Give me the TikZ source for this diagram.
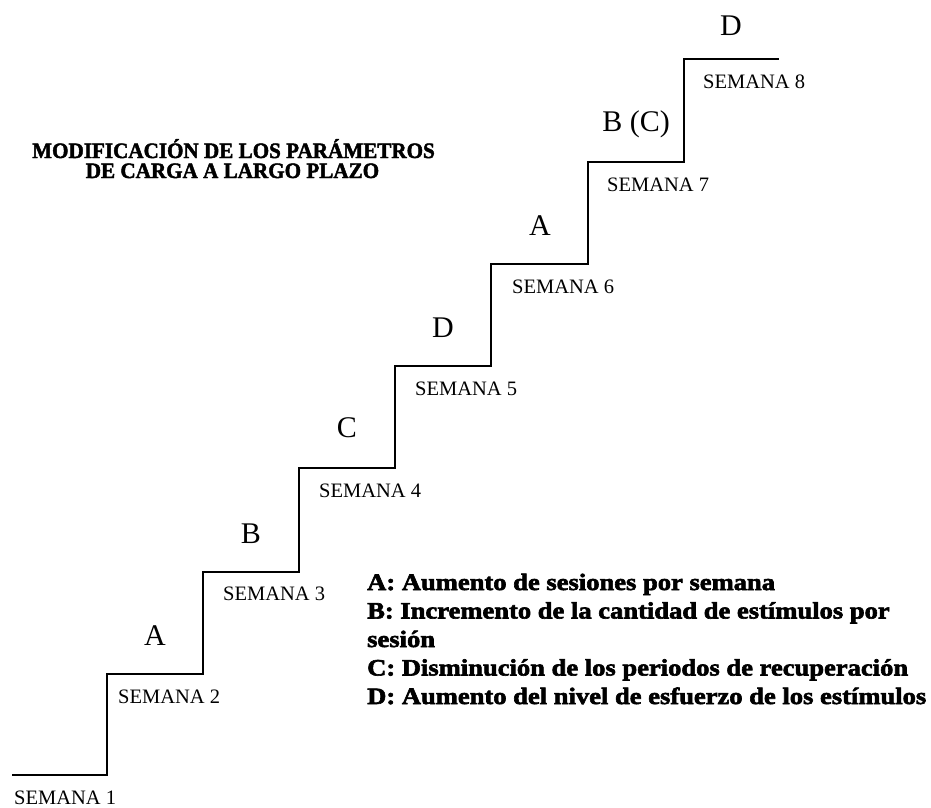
\documentclass[tikz,border=0pt]{standalone}
\usepackage{fontspec}
\setmainfont{Liberation Serif}
\newfontfamily\titlefont[FakeStretch=0.96,UprightFeatures={FakeBold=2}]{Liberation Serif Bold}
\newfontfamily\legendfont[FakeStretch=1.13,UprightFeatures={FakeBold=2.6}]{Liberation Serif Bold}
\usepackage{tikz}

\begin{document}
\begin{tikzpicture}[x=1pt,y=-1pt]
\tikzstyle{every node}+=[inner sep=0pt]
\tikzstyle{semana}=[anchor=base west,font=\fontsize{20.5}{24}\selectfont]
\tikzstyle{letra}=[anchor=base,font=\fontsize{30}{36}\selectfont]
\tikzstyle{titulo}=[anchor=base,font=\titlefont\fontsize{22}{26}\selectfont]
\tikzstyle{leyenda}=[anchor=base west,font=\legendfont\fontsize{23.5}{28}\selectfont]
\useasboundingbox (0,0) rectangle (931,807);
\draw [black,line width=2.8pt] (12,775) -- (107,775) -- (107,674) -- (203,674) -- (203,572) -- (299,572) -- (299,468) -- (395,468) -- (395,366) -- (491,366) -- (491,264) -- (588,264) -- (588,162) -- (684,162) -- (684,59) -- (779,59);
\draw (14,804) node (sem1) [semana] {SEMANA 1};
\draw (118,703) node (sem2) [semana] {SEMANA 2};
\draw (223,600) node (sem3) [semana] {SEMANA 3};
\draw (319,497) node (sem4) [semana] {SEMANA 4};
\draw (415,395) node (sem5) [semana] {SEMANA 5};
\draw (512,293) node (sem6) [semana] {SEMANA 6};
\draw (607,191) node (sem7) [semana] {SEMANA 7};
\draw (703,88) node (sem8) [semana] {SEMANA 8};
\draw (155,645) node (letA1) [letra] {A};
\draw (251,543) node (letB1) [letra] {B};
\draw (347,437) node (letC1) [letra] {C};
\draw (443,337) node (letD1) [letra] {D};
\draw (540,235) node (letA2) [letra] {A};
\draw (636,131) node (letBC) [letra] {B (C)};
\draw (731,35) node (letD2) [letra] {D};
\draw (233.5,158) node (tit1) [titulo] {MODIFICACIÓN DE LOS PARÁMETROS};
\draw (232.5,178) node (tit2) [titulo] {DE CARGA A LARGO PLAZO};
\draw (367,590) node (leyA) [leyenda] {A: Aumento de sesiones por semana};
\draw (367,618.5) node (leyB) [leyenda] {B: Incremento de la cantidad de estímulos por};
\draw (367,647) node (leyB2) [leyenda] {sesión};
\draw (367,675.5) node (leyC) [leyenda] {C: Disminución de los periodos de recuperación};
\draw (367,704) node (leyD) [leyenda] {D: Aumento del nivel de esfuerzo de los estímulos};
\end{tikzpicture}
\end{document}
